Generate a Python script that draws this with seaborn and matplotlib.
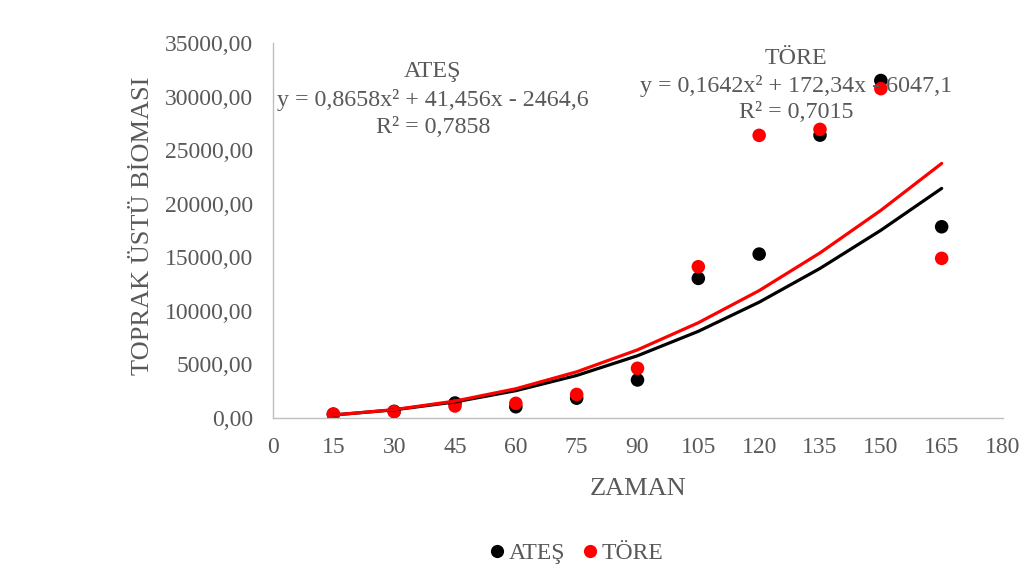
import numpy as np
import pandas as pd
import matplotlib
matplotlib.use("Agg")
import matplotlib.pyplot as plt
from matplotlib.lines import Line2D
from matplotlib.ticker import FuncFormatter
import seaborn as sns

# Sampling days and measured above-ground biomass per site
days = [15, 30, 45, 60, 75, 90, 105, 120, 135, 150, 165]
ates = [350, 620, 1400, 1050, 1850, 3550, 13030, 15300, 26400, 31500, 17850]
tore = [370, 600, 1120, 1370, 2200, 4640, 14120, 26380, 26940, 30740, 14900]

# Trend curves as drawn on the chart, at the same days
ates_trend = [280, 760, 1500, 2550, 3970, 5810, 8090, 10810, 13960, 17520, 21430]
tore_trend = [280, 780, 1580, 2730, 4310, 6360, 8890, 11890, 15410, 19380, 23760]

series_names = ["ATEŞ", "TÖRE"]
series_colors = ["#000000", "#ff0000"]

x_ticks = list(range(0, 181, 15))
y_ticks = list(range(0, 35001, 5000))

x_title = "ZAMAN"
y_title = "TOPRAK ÜSTÜ BİOMASI"

eq_ates = ["ATEŞ", "y = 0,8658x² + 41,456x - 2464,6", "R² = 0,7858"]
eq_tore = ["TÖRE", "y = 0,1642x² + 172,34x - 6047,1", "R² = 0,7015"]

TEXT = "#595959"
AXIS = "#bfbfbf"

sns.set_theme(style="white")
plt.rcParams["font.family"] = ["Liberation Serif", "DejaVu Serif"]

W, H = 1025, 569
fig = plt.figure(figsize=(W / 100, H / 100), dpi=100)


def fx(px):
    return px / W


def fy(py):
    return 1 - py / H


ax = fig.add_axes([fx(272.5), fy(418), (1002.5 - 272.5) / W, (418 - 43) / H])
ax.set_facecolor("none")

points = pd.DataFrame({
    "gun": days * 2,
    "biyokutle": ates + tore,
    "seri": [series_names[0]] * len(days) + [series_names[1]] * len(days),
})
trends = pd.DataFrame({
    "gun": days * 2,
    "biyokutle": ates_trend + tore_trend,
    "seri": [series_names[0]] * len(days) + [series_names[1]] * len(days),
})
palette = dict(zip(series_names, series_colors))

sns.scatterplot(data=points, x="gun", y="biyokutle", hue="seri", hue_order=series_names,
                palette=palette, s=95, edgecolor="none", linewidth=0, legend=False,
                ax=ax, zorder=3)
sns.lineplot(data=trends, x="gun", y="biyokutle", hue="seri", hue_order=series_names,
             palette=palette, linewidth=2.3, legend=False, ax=ax, zorder=4,
             solid_capstyle="round", solid_joinstyle="round")

ax.set_xlim(0, 180)
ax.set_ylim(0, 35000)
ax.set_xticks(x_ticks)
ax.set_yticks(y_ticks)
ax.yaxis.set_major_formatter(FuncFormatter(lambda v, p: f"{v:.2f}".replace(".", ",")))
ax.set_xlabel("")
ax.set_ylabel("")
ax.tick_params(axis="both", length=0, labelsize=17, labelcolor=TEXT)
ax.tick_params(axis="x", pad=14)
ax.tick_params(axis="y", pad=14)
for side in ("top", "right"):
    ax.spines[side].set_visible(False)
for side in ("left", "bottom"):
    ax.spines[side].set_color(AXIS)
    ax.spines[side].set_linewidth(1.0)
ax.grid(False)

# Axis titles
fig.text(fx(638), fy(489), x_title, ha="center", va="center", fontsize=19, color=TEXT)
fig.text(fx(143), fy(226), y_title, ha="center", va="center", rotation=90,
         fontsize=19, color=TEXT)

# Trendline equation labels
for lines, cx, ys in ((eq_ates, 433, (72, 100, 127)), (eq_tore, 796, (58, 86, 113))):
    for txt, yy in zip(lines, ys):
        fig.text(fx(cx), fy(yy), txt, ha="center", va="center", fontsize=17.3,
                 color=TEXT, zorder=1)

# Legend below the plot
handles = [Line2D([], [], linestyle="none", marker="o", markersize=9.5,
                  markerfacecolor=c, markeredgecolor="none") for c in series_colors]
leg = fig.legend(handles, series_names, loc="center", bbox_to_anchor=(fx(576), fy(553)),
                 ncol=2, frameon=False, fontsize=17, handlelength=0.7,
                 handletextpad=0.15, columnspacing=0.7, borderpad=0, borderaxespad=0)
for t in leg.get_texts():
    t.set_color(TEXT)

fig.savefig("out.png", dpi=100, facecolor="white")
